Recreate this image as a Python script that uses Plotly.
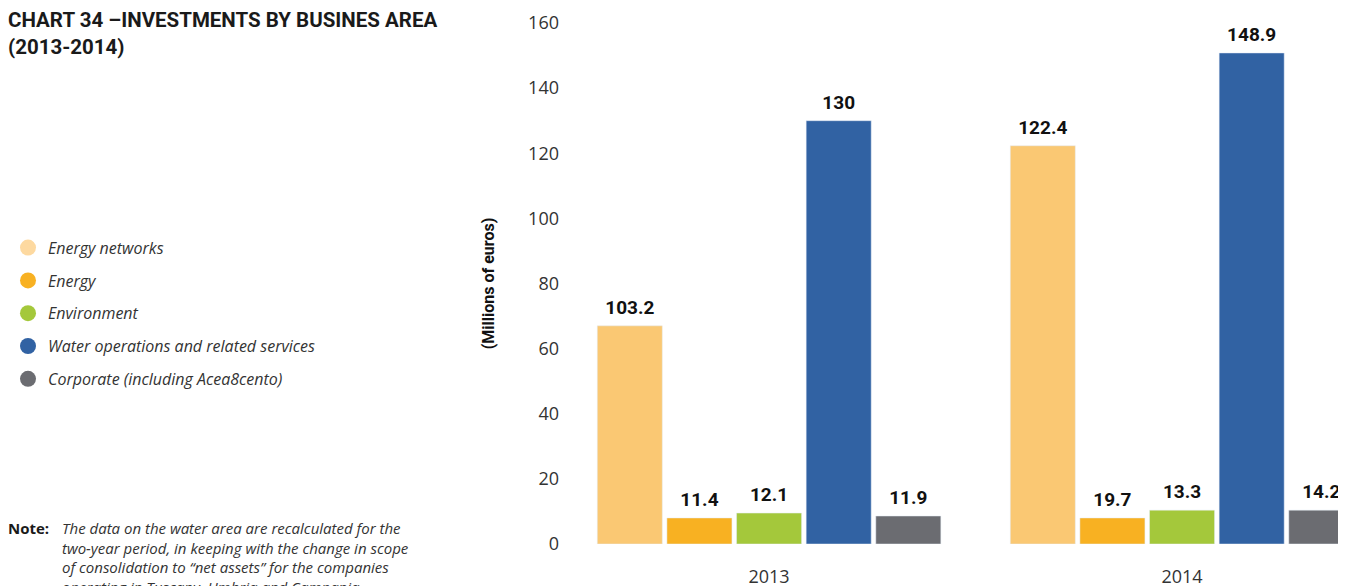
import plotly.graph_objects as go

years = [2013, 2014]
areas = ['Energy networks', 'Energy', 'Environment',
         'Water operations and related services', 'Corporate (including Acea8cento)']

# bar heights as drawn in the picture
heights = {
    'Energy networks': [67.0, 122.3],
    'Energy': [8.0, 8.0],
    'Environment': [9.5, 10.4],
    'Water operations and related services': [130.0, 150.8],
    'Corporate (including Acea8cento)': [8.6, 10.4],
}
# printed labels
labels = {
    'Energy networks': ['103.2', '122.4'],
    'Energy': ['11.4', '19.7'],
    'Environment': ['12.1', '13.3'],
    'Water operations and related services': ['130', '148.9'],
    'Corporate (including Acea8cento)': ['11.9', '14.2'],
}

bar_colors = ['#FAC873', '#F8B122', '#A4C83B', '#3162A3', '#6B6C71']
legend_colors = ['#FDD9A0', '#F8B122', '#A4C83B', '#3162A3', '#6B6C71']

fig = go.Figure()

for i, (area, col) in enumerate(zip(areas, bar_colors)):
    fig.add_trace(go.Bar(
        x=years,
        y=heights[area],
        marker_color=col,
        offsetgroup=f'g{i}',
        showlegend=False,
        hoverinfo='skip',
    ))

# value labels, grouped like the bars
for i, area in enumerate(areas):
    fig.add_trace(go.Scatter(
        x=years,
        y=heights[area],
        text=labels[area],
        mode='markers+text',
        textposition='top center',
        marker=dict(size=10, color='rgba(0,0,0,0)'),
        textfont=dict(family='Roboto', size=19, color='#111111', weight='bold'),
        offsetgroup=f'g{i}',
        cliponaxis=False,
        showlegend=False,
        hoverinfo='skip',
    ))

# legend entries as round markers
for i, (area, col) in enumerate(zip(areas, legend_colors)):
    fig.add_trace(go.Scatter(
        x=[None], y=[None], mode='markers', name=area,
        marker=dict(symbol='circle', size=22, color=col),
        legendgroup=f'l{i}',
    ))

fig.update_layout(
    width=1338, height=578,
    margin=dict(l=562, r=0, t=15, b=42, autoexpand=False),
    paper_bgcolor='white', plot_bgcolor='white',
    barmode='group', bargap=0.157, bargroupgap=0.066,
    scattermode='group', scattergap=0.157,
    font=dict(family='Open Sans', color='#333333'),
    legend=dict(
        xref='container', x=0, xanchor='left',
        yref='container', y=0.6147, yanchor='top',
        font=dict(family='Open Sans', size=16, color='#333333', style='italic'),
        tracegroupgap=9, itemsizing='trace',
        bgcolor='rgba(0,0,0,0)',
    ),
    xaxis=dict(
        range=[2012.518, 2014.397], tickvals=years, ticktext=[str(y) for y in years],
        showgrid=False, showline=False, zeroline=False, ticks='',
        ticklabelstandoff=20, automargin=False,
        tickfont=dict(size=18, color='#333333'),
    ),
    yaxis=dict(
        range=[0, 160], tickvals=list(range(0, 161, 20)),
        showgrid=False, showline=False, zeroline=False, ticks='',
        ticklabelstandoff=10, automargin=False,
        tickfont=dict(size=18, color='#333333'),
        title=dict(text='<b>(Millions of euros)</b>', standoff=29,
                   font=dict(family='Roboto', size=16, color='#111111')),
    ),
)

fig.add_annotation(
    xref='paper', yref='paper', x=(6 - 570) / 776, y=(544 - 6) / 521,
    xanchor='left', yanchor='top', showarrow=False, align='left',
    text='<b>CHART 34 –INVESTMENTS BY BUSINES AREA<br>(2013-2014)</b>',
    font=dict(family='Roboto', size=20.5, color='#1a1a1a'),
)
fig.add_annotation(
    xref='paper', yref='paper', x=(6 - 570) / 776, y=(544 - 516) / 521,
    xanchor='left', yanchor='top', showarrow=False, align='left',
    text='<b>Note:</b>', font=dict(family='Open Sans', size=15, color='#1a1a1a'),
)
fig.add_annotation(
    xref='paper', yref='paper', x=(60 - 570) / 776, y=(544 - 516) / 521,
    xanchor='left', yanchor='top', showarrow=False, align='left',
    text=('The data on the water area are recalculated for the<br>'
          'two-year period, in keeping with the change in scope<br>'
          'of consolidation to “net assets” for the companies<br>'
          'operating in Tuscany, Umbria and Campania.'),
    font=dict(family='Open Sans', size=15, color='#333333', style='italic'),
)

fig.write_html('out.html')
